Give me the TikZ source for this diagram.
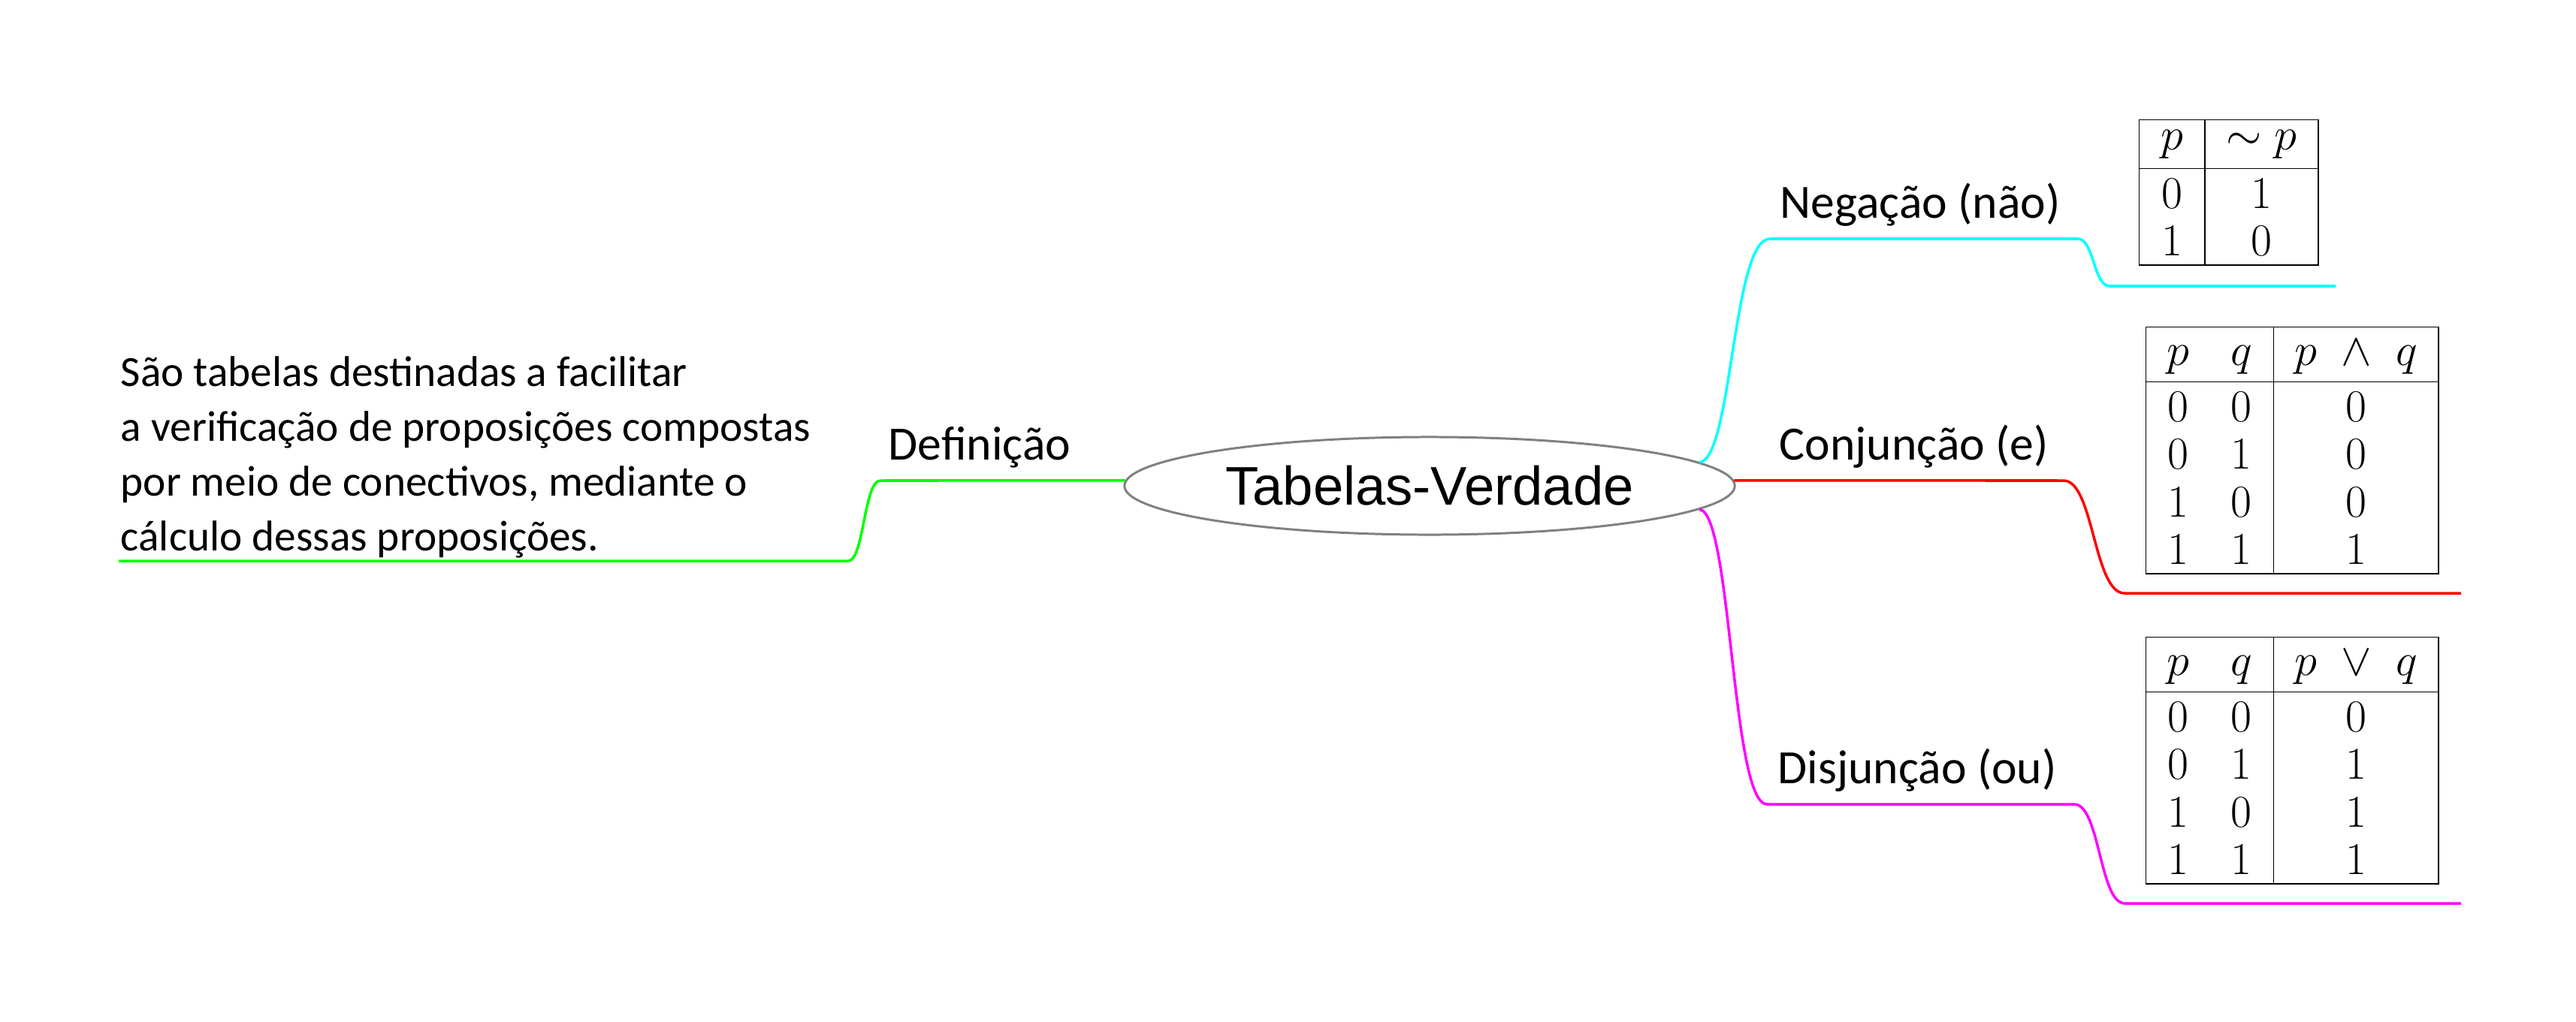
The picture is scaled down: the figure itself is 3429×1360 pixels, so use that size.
\documentclass[tikz,border=0pt]{standalone}
\usepackage{fontspec}
\usepackage{array}
\usetikzlibrary{shapes.geometric}
\newfontfamily\carl{Carlito}
\newfontfamily\lsans{Liberation Sans}
\definecolor{brgreen}{RGB}{0,255,0}
\definecolor{brcyan}{RGB}{0,255,255}
\definecolor{brred}{RGB}{255,0,0}
\definecolor{brmag}{RGB}{255,0,255}
\setlength\arrayrulewidth{0.5pt}
\newcommand\hstr{\rule[-0.21cm]{0pt}{0.71cm}}
\newcommand\nstr{\rule[-0.24cm]{0pt}{0.63cm}}
\newcommand\bstr{\rule[-0.115cm]{0pt}{0.635cm}}
\begin{document}
\begin{tikzpicture}[x=0.01cm,y=-0.01cm,
  branch/.style={line width=1pt},
  lbl/.style={font=\carl\fontsize{18.1}{21}\selectfont, inner sep=0pt, anchor=base west},
  tbl/.style={inner sep=0pt, anchor=north west, font=\fontsize{17.28}{18}\selectfont},
]
\useasboundingbox (0,0) rectangle (3429,1360);

\node[ellipse, draw=gray, line width=0.85pt, minimum width=8.12cm, minimum height=1.3cm,
      inner sep=0pt, font=\lsans\fontsize{20.6}{24}\selectfont] (tv) at (1903,647) {Tabelas-Verdade};

% labels
\node[lbl] (def) at (1182,612) {Definição};
\node[lbl] (neg) at (2369,290) {Negação (não)};
\node[lbl] (conj) at (2368,612) {Conjunção (e)};
\node[lbl] (disj) at (2366,1043) {Disjunção (ou)};

\node[font=\carl\fontsize{16.3}{20.75}\selectfont, align=left, inner sep=0pt, anchor=north west]
  (dtext) at (160,474) {São tabelas destinadas a facilitar\\a verificação de proposições compostas\\por meio de conectivos, mediante o\\cálculo dessas proposições.};

% coordinates of branches
\coordinate (gA) at (1172,640); \coordinate (gB) at (1129,747); \coordinate (gE) at (158,747);
\coordinate (cA) at (2356,318); \coordinate (cB) at (2766,318); \coordinate (cC) at (2808,381); \coordinate (cE) at (3109,381);
\coordinate (rA) at (2747,640); \coordinate (rB) at (2828,790); \coordinate (rE) at (3276,790);
\coordinate (mA) at (2352,1071); \coordinate (mB) at (2761,1071); \coordinate (mC) at (2828,1203); \coordinate (mE) at (3276,1203);

\draw[branch, brgreen] (tv.179) -- (gA) .. controls (1150,640) and (1150,747) .. (gB) -- (gE);
\draw[branch, brcyan] (tv.5.5) .. controls (2306,612) and (2306,318) .. (cA) -- (cB)
   .. controls (2787,318) and (2787,381) .. (cC) -- (cE);
\draw[branch, brred] (tv.1) -- (rA) .. controls (2787,640) and (2787,790) .. (rB) -- (rE);
\draw[branch, brmag] (tv.-5.5) .. controls (2305,682) and (2305,1071) .. (mA) -- (mB)
   .. controls (2795,1071) and (2795,1203) .. (mC) -- (mE);

% tables
\node[tbl] (tneg) at (2846,158) {\setlength\tabcolsep{0.278cm}\renewcommand\arraystretch{0}%
\begin{tabular}{|c|c|}\hline
\nstr $p$ & $\sim p$\\\hline
\bstr 0 & 1\\
\bstr 1 & 0\\\hline
\end{tabular}};

\node[tbl] (tconj) at (2855,434) {\setlength\tabcolsep{0.274cm}\renewcommand\arraystretch{0}%
\begin{tabular}{|cc|c|}\hline
\hstr $p$ & $q$ & $p$\hspace{0.32cm}$\wedge$\hspace{0.32cm}$q$\\\hline
\bstr 0 & 0 & 0\\
\bstr 0 & 1 & 0\\
\bstr 1 & 0 & 0\\
\bstr 1 & 1 & 1\\\hline
\end{tabular}};

\node[tbl] (tdisj) at (2855,847) {\setlength\tabcolsep{0.274cm}\renewcommand\arraystretch{0}%
\begin{tabular}{|cc|c|}\hline
\hstr $p$ & $q$ & $p$\hspace{0.32cm}$\vee$\hspace{0.32cm}$q$\\\hline
\bstr 0 & 0 & 0\\
\bstr 0 & 1 & 1\\
\bstr 1 & 0 & 1\\
\bstr 1 & 1 & 1\\\hline
\end{tabular}};
\end{tikzpicture}
\end{document}
